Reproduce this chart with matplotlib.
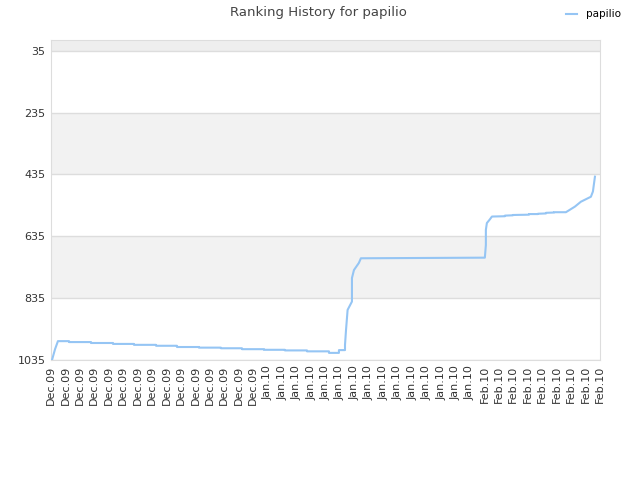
import matplotlib
matplotlib.use("Agg")
import matplotlib.pyplot as plt
import numpy as np

# x in tick units (0 = first tick) and rank values
x_vals = [0.07, 0.28, 0.48,
          1.25, 1.25, 2.77, 2.77, 4.29, 4.29, 5.74, 5.74, 7.27, 7.27,
          8.72, 8.72, 10.24, 10.24, 11.76, 11.76, 13.22, 13.22, 14.74, 14.74,
          16.19, 16.19, 17.72, 17.72, 19.24, 19.24, 19.93, 19.93,
          20.35, 20.35, 20.42, 20.53, 20.83, 20.83, 20.97, 21.31, 21.45,
          30.03, 30.10, 30.10, 30.17, 30.38, 30.52,
          31.42, 31.42, 31.97, 31.97, 33.08, 33.08, 33.70, 33.70,
          34.26, 34.26, 34.81, 34.81, 35.64,
          36.26, 36.68, 37.37, 37.51, 37.65]
ranks = [1035, 1000, 974,
         974, 977, 977, 980, 980, 983, 983, 986, 986, 989,
         989, 993, 993, 995, 995, 997, 997, 1000, 1000, 1002,
         1002, 1004, 1004, 1007, 1007, 1012, 1012, 1003,
         1003, 986, 938, 873, 846, 770, 744, 721, 706,
         704, 663, 614, 592, 580, 571,
         570, 568, 567, 566, 565, 563, 563, 562,
         561, 559, 558, 557, 557,
         539, 523, 507, 490, 442]

tick_labels = ["Dec.09"] * 15 + ["Jan.10"] * 15 + ["Feb.10"] * 9
y_ticks = [35, 235, 435, 635, 835, 1035]

fig = plt.figure(figsize=(6.4, 4.8), dpi=100)
ax = fig.add_axes([51/640, 1 - 360/480, 549/640, 320/480])

ax.set_ylim(1035, 0)
ax.set_xlim(0, len(tick_labels) - 1)

# bands
ax.axhspan(0, 35, color="#eeeeee", zorder=0, lw=0)
ax.axhspan(235, 435, color="#f2f2f2", zorder=0, lw=0)
ax.axhspan(635, 835, color="#f2f2f2", zorder=0, lw=0)
for yv in y_ticks:
    ax.axhline(yv, color="#dddddd", lw=1, zorder=1)

ax.plot(x_vals, ranks, color="#95c5f4", lw=1.5, zorder=3, label="papilio")

ax.set_yticks(y_ticks)
ax.set_yticklabels([str(v) for v in y_ticks], fontsize=8, color="#333333")
ax.set_xticks(np.arange(len(tick_labels)))
ax.set_xticklabels(tick_labels, rotation=90, fontsize=8, color="#333333")
ax.tick_params(axis="both", length=0, pad=4)
for s in ax.spines.values():
    s.set_color("#dddddd")

fig.text(0.497, 0.988, "Ranking History for papilio", ha="center", va="top",
         fontsize=9.5, color="#444444")
fig.legend(loc="upper right", bbox_to_anchor=(0.985, 1.0), frameon=False,
           fontsize=7.5, handlelength=1.0, handletextpad=0.9)

fig.savefig("out.png", dpi=100)
